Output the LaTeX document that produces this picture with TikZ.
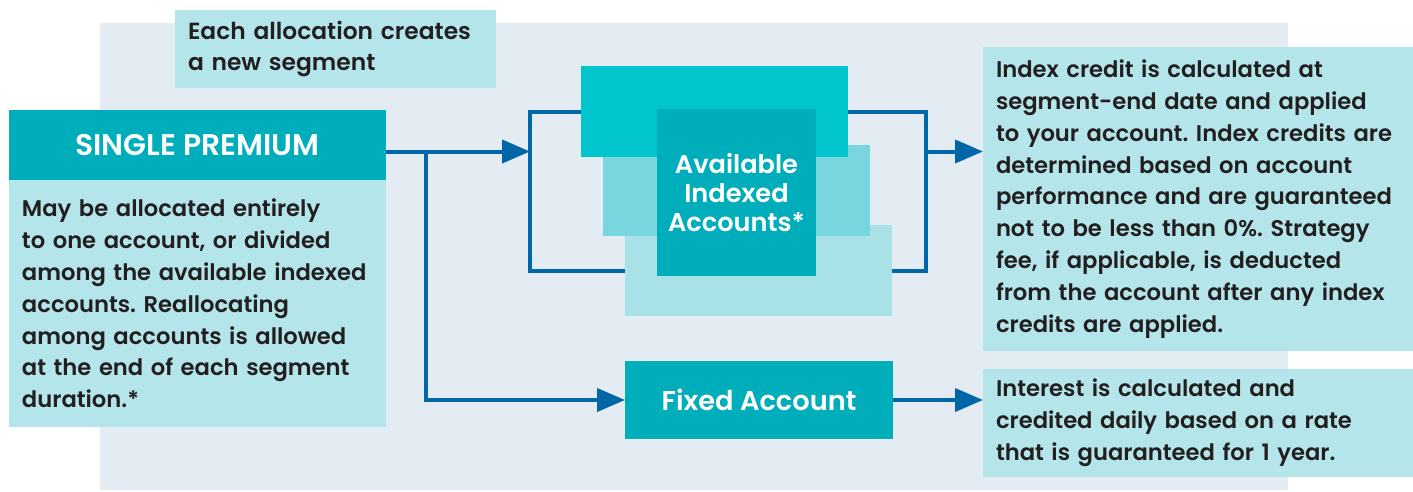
\documentclass[tikz,border=0pt]{standalone}
\usepackage{fontspec}
\setmainfont{Poppins}[BoldFont={* SemiBold}]
\usepackage{xcolor}
\usepackage{tikz}
\usetikzlibrary{arrows.meta, positioning}
\definecolor{cpanel}{HTML}{E4ECF3}
\definecolor{clight}{HTML}{B3E5EA}
\definecolor{cteal}{HTML}{00ADBB}
\definecolor{ccyan}{HTML}{00C5CD}
\definecolor{cmid}{HTML}{7AD6DE}
\definecolor{cpale}{HTML}{A8E1E6}
\definecolor{cflow}{HTML}{0066A8}
\definecolor{cink}{HTML}{231F20}
\frenchspacing

\begin{document}
\begin{tikzpicture}[x=0.02cm, y=-0.02cm,
    every node/.style={inner sep=0pt, outer sep=0pt, anchor=north west},
    txtbox/.style={fill=clight, text=cink, align=left, inner xsep=0.26cm,
        font=\bfseries\fontsize{12.9}{18.1}\selectfont},
    headbox/.style={fill=cteal, text=white, align=center,
        font=\bfseries\fontsize{15.5}{16.4}\selectfont},
    stack/.style={minimum width=5.34cm, minimum height=1.82cm},
    flow/.style={line width=0.08cm, cflow, -{Triangle[length=0.56cm, width=0.46cm]}},
]
    \useasboundingbox (0,0) rectangle (1413,491);

    % Panel
    \fill[cpanel] (100,23) rectangle (1288,490);

    % Note on top
    \node[txtbox, text width=5.9cm, minimum height=1.56cm,
        font=\bfseries\fontsize{13.3}{17.6}\selectfont] (note) at (175,10)
        {Each allocation creates\\a new segment};

    % Single premium
    \node[headbox, minimum width=7.54cm, minimum height=1.4cm,
        font=\bfseries\fontsize{17}{20}\selectfont] (prem) at (9,110)
        {SINGLE PREMIUM};
    \node[txtbox, text width=7.02cm, minimum height=4.94cm, below=0pt of prem] (premtxt)
        {May be allocated entirely\\to one account, or divided\\among the available indexed\\accounts. Reallocating\\among accounts is allowed\\at the end of each segment\\duration.*};

    % Loop round the indexed accounts
    \node[draw=cflow, line width=0.08cm, minimum width=7.93cm, minimum height=3.2cm] (loop)
        at (530,111.5) {};

    % Stacked segments
    \node[stack, fill=cpale] (seg3) at (625,225) {};
    \node[stack, fill=cmid] (seg2) at (603,145) {};
    \node[stack, fill=ccyan] (seg1) at (581,66) {};
    \node[headbox, minimum width=3.18cm, minimum height=3.34cm,
        font=\bfseries\fontsize{14.6}{16.4}\selectfont] (indexed) at (657,109)
        {Available\\Indexed\\Accounts*};

    % Fixed account
    \node[headbox, minimum width=5.36cm, minimum height=1.56cm] (fixed) at (625,361)
        {Fixed Account};

    % Right-hand notes
    \node[txtbox, text width=8.08cm, minimum height=6.08cm] (info) at (983,47)
        {Index credit is calculated at\\segment-end date and applied\\to your account. Index credits are\\determined based on account\\performance and are guaranteed\\not to be less than 0\%. Strategy\\fee, if applicable, is deducted\\from the account after any index\\credits are applied.};
    \node[txtbox, text width=8.08cm, minimum height=2.16cm] (info2) at (983,369)
        {Interest is calculated and\\credited daily based on a rate\\that is guaranteed for 1 year.};

    % Arrows
    \coordinate (split) at (425.5,151.5);
    \draw[flow] (prem.east |- split) -- (loop.west |- split);
    \draw[flow] (split) |- (fixed.west);
    \draw[flow] (loop.east |- split) -- (info.west |- split);
    \draw[flow] (fixed.east) -- (fixed.east -| info2.west);
\end{tikzpicture}
\end{document}
